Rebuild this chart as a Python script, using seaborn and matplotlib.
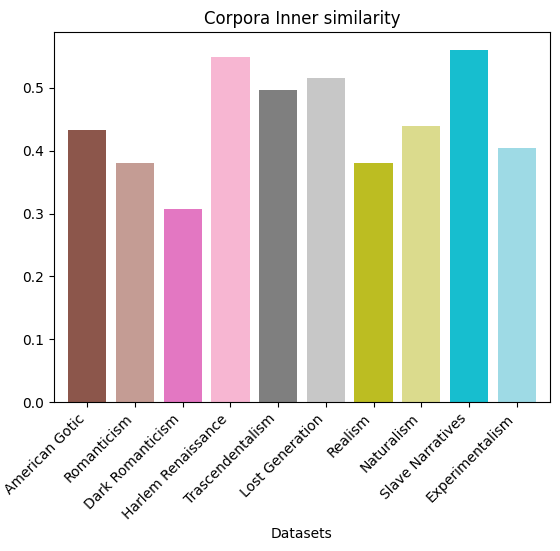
import matplotlib
matplotlib.use('Agg')
import matplotlib.pyplot as plt
import seaborn as sns

datasets = ['American Gotic', 'Romanticism', 'Dark Romanticism', 'Harlem Renaissance',
            'Trascendentalism', 'Lost Generation', 'Realism', 'Naturalism',
            'Slave Narratives', 'Experimentalism']
similarity = [0.433, 0.381, 0.308, 0.549, 0.497, 0.516, 0.381, 0.440, 0.561, 0.405]
colors = ['#8c564b', '#c49c94', '#e377c2', '#f7b6d2', '#7f7f7f',
          '#c7c7c7', '#bcbd22', '#dbdb8d', '#17becf', '#9edae5']

fig = plt.figure(figsize=(5.6, 5.51), dpi=100)
ax = fig.add_axes([54/560, 1-402/551, 496/560, 370/551])
sns.barplot(x=datasets, y=similarity, hue=datasets, palette=colors,
            saturation=1, width=0.8, legend=False, ax=ax)
ax.set_title('Corpora Inner similarity')
ax.set_xlabel('Datasets')
ax.set_ylabel('')
ax.set_xlim(-0.7, 9.7)
plt.setp(ax.get_xticklabels(), rotation=45, ha='right')
fig.savefig('out.png', dpi=100)
